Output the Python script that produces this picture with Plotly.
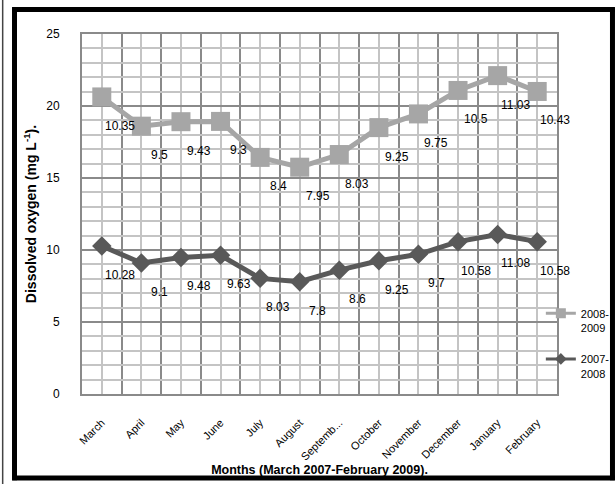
import plotly.graph_objects as go

months = ["March", "April", "May", "June", "July", "August", "Septemb...",
          "October", "November", "December", "January", "February"]
do_2007_2008 = [10.28, 9.1, 9.48, 9.63, 8.03, 7.8, 8.6, 9.25, 9.7, 10.58, 11.08, 10.58]
do_2008_2009 = [10.35, 9.5, 9.43, 9.3, 8.4, 7.95, 8.03, 9.25, 9.75, 10.5, 11.03, 10.43]
y_ticks = [0, 5, 10, 15, 20, 25]

FONT = "Liberation Sans"
DARK = "#595959"
LIGHT = "#A6A6A6"
GRID_DARK = "#8A8A8A"
GRID_LIGHT = "#C4C4C4"

x = list(range(len(months)))
# stacked line chart: upper series is drawn on top of the lower one
stacked_upper = [a + b for a, b in zip(do_2007_2008, do_2008_2009)]

fig = go.Figure()
fig.add_trace(go.Scatter(
    x=x, y=do_2007_2008, name="2007-2008", mode="lines+markers",
    line=dict(color=DARK, width=5),
    marker=dict(symbol="diamond", size=15, color=DARK),
    showlegend=False))
fig.add_trace(go.Scatter(
    x=x, y=stacked_upper, name="2008-2009", mode="lines+markers",
    line=dict(color=LIGHT, width=5),
    marker=dict(symbol="square", size=19, color=LIGHT),
    showlegend=False))
# legend entries (smaller symbols, as in the reference legend)
fig.add_trace(go.Scatter(
    x=[None], y=[None], name="2008-<br>2009", mode="lines+markers",
    line=dict(color=LIGHT, width=3),
    marker=dict(symbol="square", size=10, color=LIGHT), legendgroup="b"))
fig.add_trace(go.Scatter(
    x=[None], y=[None], name="2007-<br>2008", mode="lines+markers",
    line=dict(color=DARK, width=3),
    marker=dict(symbol="diamond", size=9, color=DARK), legendgroup="a"))

for ys, vals in [(do_2007_2008, do_2007_2008), (stacked_upper, do_2008_2009)]:
    for xi, yi, v in zip(x, ys, vals):
        fig.add_annotation(x=xi, y=yi, text=str(v), showarrow=False,
                           xshift=18, yshift=-29,
                           font=dict(family=FONT, size=12, color="#000000"))

fig.update_xaxes(
    range=[-0.5, len(months) - 0.5], tickmode="array", tickvals=x, ticktext=months,
    tickangle=-45, ticks="", showgrid=True, gridcolor=GRID_LIGHT, gridwidth=2,
    minor=dict(tickvals=[i - 0.5 for i in range(len(months) + 1)], showgrid=True,
               gridcolor=GRID_DARK, gridwidth=2),
    showline=True, linecolor=GRID_DARK, linewidth=2, mirror=True,
    zeroline=False, ticklabelstandoff=16,
    tickfont=dict(family=FONT, size=11, color="#000000"),
    title=dict(text="<b>Months (March 2007-February 2009).</b>",
               font=dict(family=FONT, size=12.5, color="#000000"), standoff=0),
)
fig.update_yaxes(
    range=[0, 25], tickmode="array", tickvals=y_ticks, ticks="",
    showgrid=True, gridcolor=GRID_DARK, gridwidth=2,
    minor=dict(dtick=1, showgrid=True, gridcolor=GRID_LIGHT, gridwidth=2),
    showline=True, linecolor=GRID_DARK, linewidth=2, mirror=True,
    zeroline=False, ticklabelstandoff=18,
    tickfont=dict(family=FONT, size=12, color="#000000"),
    title=dict(text="<b>Dissolved oxygen (mg L<sup>-1</sup>).</b>",
               font=dict(family=FONT, size=14, color="#000000"), standoff=6),
)

# outer frame (paper coordinates relative to the plot area)
FL, FR, FT, FB = -0.1421, 1.1168, 1.0681, -0.2333
frame = dict(color="black", width=5)
fig.update_layout(
    width=615, height=484,
    margin=dict(l=82, r=58, t=34, b=90, autoexpand=False),
    paper_bgcolor="white", plot_bgcolor="white",
    showlegend=True,
    legend=dict(x=0.966, y=0.262, xanchor="left", yanchor="top",
                traceorder="grouped", valign="top", tracegroupgap=14,
                bgcolor="rgba(0,0,0,0)",
                font=dict(family=FONT, size=11, color="#000000")),
    shapes=[
        dict(type="line", xref="paper", yref="paper", x0=FL, x1=FL, y0=FB - 0.006, y1=FT + 0.006,
             line=frame, layer="above"),
        dict(type="line", xref="paper", yref="paper", x0=FR, x1=FR, y0=FB - 0.006, y1=FT + 0.006,
             line=frame, layer="above"),
        dict(type="line", xref="paper", yref="paper", x0=FL - 0.005, x1=FR + 0.005, y0=FT, y1=FT,
             line=frame, layer="above"),
        dict(type="line", xref="paper", yref="paper", x0=FL - 0.005, x1=FR + 0.005, y0=FB, y1=FB,
             line=frame, layer="above"),
        dict(type="line", xref="paper", yref="paper",
             x0=-0.167, x1=-0.167, y0=-0.3, y1=1.2,
             line=dict(color="#444444", width=1.5)),
    ],
)

fig.write_html("out.html", config={"displayModeBar": False},
               post_script="document.body.style.margin='0px';document.body.style.overflow='hidden';")
